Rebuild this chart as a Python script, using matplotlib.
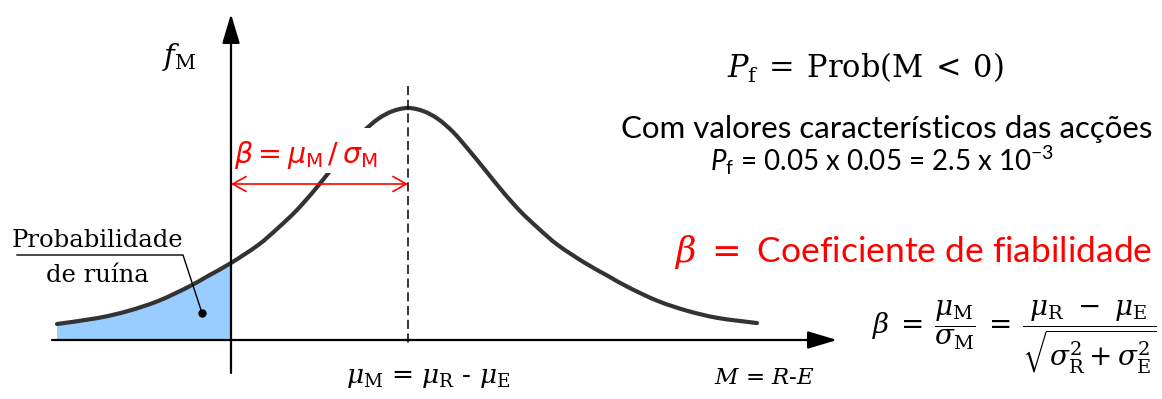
import matplotlib
matplotlib.use("Agg")
import numpy as np
import matplotlib.pyplot as plt
from matplotlib.patches import Rectangle, PathPatch
from matplotlib.path import Path

# Safety margin M = R - E : density curve f_M (M in units of mu_M, f in units of the peak)
m_vals = [-0.983, -0.751, -0.582, -0.412, -0.243, -0.130, 0.0, 0.153, 0.266, 0.367,
          0.463, 0.559, 0.661, 0.746, 0.831, 0.915, 1.0,
          1.085, 1.169, 1.254, 1.339, 1.441, 1.537, 1.633, 1.734, 1.847,
          2.0, 2.130, 2.243, 2.412, 2.582, 2.751, 2.972]
f_vals = [0.069, 0.095, 0.125, 0.168, 0.228, 0.276, 0.332, 0.409, 0.483, 0.556,
          0.638, 0.728, 0.823, 0.897, 0.953, 0.987, 1.0,
          0.987, 0.953, 0.897, 0.823, 0.728, 0.638, 0.556, 0.483, 0.409,
          0.332, 0.276, 0.228, 0.168, 0.125, 0.095, 0.073]
mu_M = 1.0

plt.rcParams["mathtext.fontset"] = "custom"
plt.rcParams["mathtext.rm"] = "Lato"
plt.rcParams["mathtext.it"] = "Lato:italic"
plt.rcParams["mathtext.bf"] = "Lato:bold"

W, H = 1162, 399
fig = plt.figure(figsize=(W / 100, H / 100), dpi=100)
ax = fig.add_axes([0, 0, 1, 1])

# pixel layout -> chart units (origin where the axes cross)
X0, Y0, SX, SY = 231, 340, 177, 232


def at(px, py):
    return ((px - X0) / SX, (Y0 - py) / SY)


ax.set_xlim(at(0, 0)[0], at(W, 0)[0])
ax.set_ylim(at(0, H)[1], at(0, 0)[1])
ax.axis("off")

red = "#FF0000"
curve_col = "#333333"


def bezier_segments(xs, ys):
    """Cubic Bezier pieces passing through every (x, y) point (Catmull-Rom tangents)."""
    p = np.column_stack([xs, ys])
    n = len(p)
    segs = []
    for i in range(n - 1):
        p0, p1, p2, p3 = p[max(i - 1, 0)], p[i], p[i + 1], p[min(i + 2, n - 1)]
        segs.append((p1, p1 + (p2 - p0) / 6, p2 - (p3 - p1) / 6, p2))
    return segs


def segs_to_path(segs, closing=None):
    verts = [segs[0][0]]
    codes = [Path.MOVETO]
    for _, c1, c2, e in segs:
        verts += [c1, c2, e]
        codes += [Path.CURVE4] * 3
    if closing is not None:
        for v in closing:
            verts.append(v)
            codes.append(Path.LINETO)
        verts.append(segs[0][0])
        codes.append(Path.CLOSEPOLY)
    return Path(verts, codes)


segs = bezier_segments(m_vals, f_vals)
n_neg = sum(1 for m in m_vals if m <= 0) - 1

# failure region M < 0
fill_path = segs_to_path(segs[:n_neg], closing=[(0.0, 0.0), (m_vals[0], 0.0)])
ax.add_patch(PathPatch(fill_path, facecolor="#99CCFF", edgecolor="none", zorder=1))

# density curve
ax.add_patch(PathPatch(segs_to_path(segs), facecolor="none", edgecolor=curve_col,
                       lw=3.0, capstyle="round", joinstyle="round", zorder=2))

# axes with arrows
for tip, tail in [((231, 14), (231, 373)), ((837, 340), (52, 340))]:
    ax.annotate("", xy=at(*tip), xytext=at(*tail),
                arrowprops=dict(arrowstyle="-|>,head_length=1.0,head_width=0.3",
                                mutation_scale=18, lw=1.6, color="black",
                                shrinkA=0, shrinkB=0), zorder=4)

# mean of M
ax.plot([mu_M, mu_M], [at(0, 86)[1], at(0, 345)[1]], color="black", lw=1.1,
        dashes=(6, 3), zorder=3)

# white backing behind the reliability label
x_a, y_a = at(233, 173)
x_b, y_b = at(392, 128)
ax.add_patch(Rectangle((x_a, y_a), x_b - x_a, y_b - y_a, facecolor="white",
                       edgecolor="none", zorder=3))
ax.text(*at(234, 163), r"$\beta = \mu_{\mathsf{M}}\,/\,\sigma_{\mathsf{M}}$",
        color=red, fontsize=20.5, math_fontfamily="dejavusans",
        ha="left", va="baseline", zorder=5)

# beta distance arrow
ax.annotate("", xy=at(231, 184), xytext=at(408, 184),
            arrowprops=dict(arrowstyle="<->,head_length=0.8,head_width=0.45",
                            mutation_scale=12, lw=1.2, color=red,
                            shrinkA=0, shrinkB=0), zorder=5)

# axis labels
ax.text(*at(162, 65), r"$f_{\mathrm{M}}$", fontsize=21,
        math_fontfamily="dejavuserif", ha="left", va="baseline")
ax.text(*at(428, 383), r"$\mu_{\mathrm{M}}$ = $\mu_{\mathrm{R}}$ - $\mu_{\mathrm{E}}$",
        fontsize=19, family="DejaVu Serif", math_fontfamily="dejavuserif",
        ha="center", va="baseline")
ax.text(*at(714, 384), r"$M$ = $R$-$E$", fontsize=16.5, family="DejaVu Serif",
        math_fontfamily="dejavuserif", ha="left", va="baseline")

# failure probability callout
ax.text(*at(97, 247), "Probabilidade", fontsize=17.5, family="DejaVu Serif",
        ha="center", va="baseline")
ax.text(*at(97, 282), "de ruína", fontsize=17.5, family="DejaVu Serif",
        ha="center", va="baseline")
lx, ly = zip(at(17, 255), at(183, 255), at(202, 313))
ax.plot(lx, ly, color="black", lw=1.0, zorder=5)
ax.plot(*at(202, 313), "o", color="black", ms=5, zorder=5)

# right-hand notes
ax.text(*at(727, 78), r"$P_{\mathrm{f}}\:=\:\mathrm{Prob(M}\:<\:0)$", fontsize=22,
        math_fontfamily="dejavuserif", ha="left", va="baseline")
ax.text(*at(887, 138), "Com valores característicos das acções", fontsize=22.5,
        family="Lato", ha="center", va="baseline")
ax.text(*at(882, 171), r"$P_\mathrm{f}$ = 0.05 x 0.05 = 2.5 x 10$^{-3}$",
        fontsize=20, family="Lato", math_fontfamily="custom",
        ha="center", va="baseline")
ax.text(*at(674, 262), r"$\beta\;=$ Coeficiente de fiabilidade", fontsize=25.5,
        family="Lato", math_fontfamily="dejavuserif", color=red,
        ha="left", va="baseline")
ax.text(*at(872, 334),
        r"$\beta\:=\:\dfrac{\mu_{\mathrm{M}}}{\sigma_{\mathrm{M}}}"
        r"\:=\:\dfrac{\mu_{\mathrm{R}}\ -\ \mu_{\mathrm{E}}}"
        r"{\sqrt{\sigma_{\mathrm{R}}^2 + \sigma_{\mathrm{E}}^2}}$",
        fontsize=20, math_fontfamily="dejavuserif", ha="left", va="baseline")

fig.savefig("out.png", dpi=100, facecolor="white")
